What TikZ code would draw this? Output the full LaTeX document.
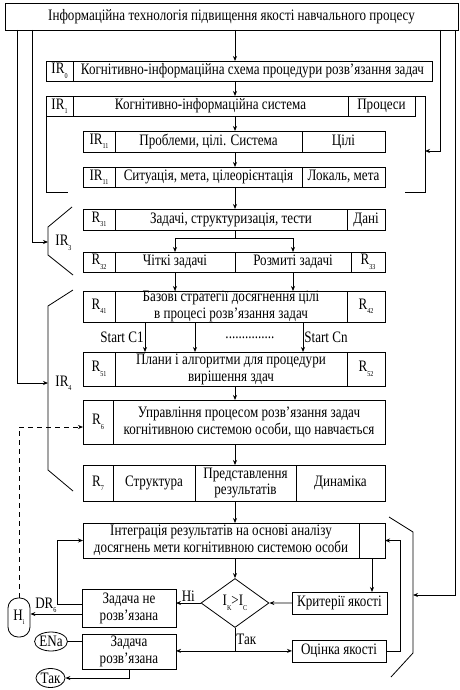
\documentclass[tikz,border=0pt]{standalone}
\usepackage{fontspec}
\setmainfont{Liberation Serif}[FakeStretch=0.82]
\usetikzlibrary{shapes.geometric,arrows.meta}
\newcommand{\rsub}[1]{\raisebox{-.6ex}{\fontsize{7.5}{7.5}\selectfont #1}}
\tikzset{cell/.style args={#1:#2}{draw, anchor=north west, minimum width=#1bp, minimum height=#2bp, inner sep=0pt, outer sep=0pt, align=center},
%round ends for the start/stop marks
capsule/.style={draw, rounded corners=10bp, minimum width=22bp, minimum height=39bp, inner sep=0pt},
oval/.style={draw, ellipse, minimum width=#1, minimum height=19bp, inner sep=0pt},
oval/.default={32bp},
diam/.style={draw, diamond, aspect=1.4, minimum width=68bp, minimum height=49bp, inner sep=0pt},
lbl/.style={inner sep=1bp},
dash5/.style={dash pattern=on 5bp off 4bp}}

\begin{document}
\begin{tikzpicture}[x=1bp,y=-1bp,line width=.8bp,font=\fontsize{16}{17}\selectfont,>={Stealth[length=5bp,width=4bp]}]
\useasboundingbox (0,0) rectangle (460,690);

\node[cell=453:27] (top) at (5,3) {Інформаційна технологія підвищення якості навчального процесу};
\coordinate (mid) at (235,0);

\node[cell=27:20] (ir0a) at (46,61) {IR\rsub{0}};
\node[cell=359:20] (ir0b) at (ir0a.north east) {Когнітивно-інформаційна схема процедури розв’язання задач};

\node[cell=27:20] (ir1a) at (46,96) {IR\rsub{1}};
\node[cell=275:20] (ir1b) at (ir1a.north east) {Когнітивно-інформаційна система};
\node[cell=67:20] (ir1c) at (ir1b.north east) {Процеси};

\node[cell=32:21] (ir11a) at (83,131) {IR\rsub{11}};
\node[cell=187:21] (ir11b) at (ir11a.north east) {Проблеми, цілі. Система};
\node[cell=83:21] (ir11c) at (ir11b.north east) {Цілі};

\node[cell=32:20] (ir12a) at (83,167) {IR\rsub{11}};
\node[cell=187:20] (ir12b) at (ir12a.north east) {Ситуація, мета, цілеорієнтація};
\node[cell=83:20] (ir12c) at (ir12b.north east) {Локаль, мета};

\node[cell=32:21] (r31a) at (83,209) {R\rsub{31}};
\node[cell=232:21] (r31b) at (r31a.north east) {Задачі, структуризація, тести};
\node[cell=38:21] (r31c) at (r31b.north east) {Дані};

\node[cell=32:20] (r32a) at (83,252) {R\rsub{32}};
\node[cell=120:20] (r32b) at (r32a.north east) {Чіткі задачі};
\node[cell=116:20] (r32c) at (r32b.north east) {Розмиті задачі};
\node[cell=34:20] (r32d) at (r32c.north east) {R\rsub{33}};

\node[cell=32:31] (r41a) at (83,291) {R\rsub{41}};
\node[cell=232:31] (r41b) at (r41a.north east) {Базові стратегії досягнення цілі\\в процесі розв’язання задач};
\node[cell=38:31] (r41c) at (r41b.north east) {R\rsub{42}};

\node[cell=32:34] (r51a) at (83,352) {R\rsub{51}};
\node[cell=232:34] (r51b) at (r51a.north east) {Плани і алгоритми для процедури\\вирішення здач};
\node[cell=38:34] (r51c) at (r51b.north east) {R\rsub{52}};

\node[cell=30:44] (r6a) at (83,400) {R\rsub{6}};
\node[cell=272:44] (r6b) at (r6a.north east) {Управління процесом розв’язання задач\\когнітивною системою особи, що навчається};

\node[cell=30:36] (r7a) at (83,465) {R\rsub{7}};
\node[cell=82:36] (r7b) at (r7a.north east) {Структура};
\node[cell=101:36] (r7c) at (r7b.north east) {Представлення\\результатів};
\node[cell=89:36] (r7d) at (r7c.north east) {Динаміка};

\node[cell=276:35] (intega) at (83,523) {Інтеграція результатів на основі аналізу\\досягнень мети когнітивною системою особи};
\node[cell=26:35] (integb) at (intega.north east) {};

\node[diam] (dia) at (235,603) {I\rsub{K}>I\rsub{C}};
\node[cell=95:22] (krit) at (292,592) {Критерії якості};
\node[cell=94:38] (notsolved) at (82,589) {Задача не\\розв’язана};
\node[cell=94:35] (solved) at (82,634) {Задача\\розв’язана};
\node[cell=94:22] (ocinka) at (292,640) {Оцінка якості};
\node[capsule] (hi) at (19,617.5) {H\rsub{i}};
\node[oval] (ena) at (51,641.5) {ENa};
\node[oval=29bp] (tak) at (50.5,678) {Так};

% frame of IR1
\draw (ir1c.north east) -- (425,96) -- (425,192) -- (405,192);
\draw (ir1a.south west) -- (46,192) -- (68,192);
% brackets IR3, IR4 and the right one
\draw (72,207) -- (48,227) -- (48,255) -- (73,275);
\draw (73,290) -- (48,306) -- (48,470) -- (73,491);
\draw (389,517) -- (413,532) -- (413,653) -- (391,677);
\coordinate (ir1f) at (425,151);
\coordinate (ir3f) at (48,242);
\coordinate (ir4f) at (48,383);
\coordinate (rbf) at (413,595);
\node[lbl, right] (ir3) at (54,243) {IR\rsub{3}};
\node[lbl, right] (ir4) at (54,383) {IR\rsub{4}};

% lines from the top box
\coordinate (lx1) at (17,0);
\coordinate (lx2) at (32,0);
\coordinate (rx1) at (440,0);
\coordinate (rx2) at (455,0);
\draw[->] (top.south -| lx1) |- (ir4f);
\draw[->] (top.south -| lx2) |- (ir3f);
\draw[->] (top.south -| rx1) |- (ir1f);
\draw[->] (top.south -| rx2) |- (rbf);

% main column
\draw[->] (top.south -| mid) -- (ir0b.north -| mid);
\draw[->] (ir0b.south -| mid) -- (ir1b.north -| mid);
\draw[->] (ir1b.south -| mid) -- (ir11b.north -| mid);
\draw[->] (ir11b.south -| mid) -- (ir12b.north -| mid);
\draw[->] (ir12b.south -| mid) -- (r31b.north -| mid);
\draw (r31b.south -| mid) -- ++(0,8) coordinate (split);
\draw[->] (split -| r32b) -| (r32b.north);
\draw[->] (split -| r32c) -| (r32c.north);
\draw (split -| r32b) -- (split -| r32c);
\draw[->] (r32b.south) -- (r32b.south |- r41b.north);
\draw[->] (r32c.south) -- (r32c.south |- r41b.north);
\draw[->] ([xshift=30bp]r41b.south west) -- node[lbl, left] {Start C1} ([xshift=30bp]r51b.north west);
\draw[->] ([xshift=80bp]r41b.south west) -- ([xshift=80bp]r51b.north west);
\draw[->] ([xshift=-44bp]r41b.south east) -- node[lbl, right] {Start Cn} ([xshift=-44bp]r51b.north east);
\node[lbl] (dots) at (250,338) {...............};
\draw[->] (r51b.south -| mid) -- (r6b.north -| mid);
\draw[->] (r6b.south -| mid) -- (r7c.north -| mid);
\draw[->] (r7c.south -| mid) -- (intega.north -| mid);
\draw[->] (intega.south -| mid) -- (dia.north);
\draw[->] (integb.south) -- (integb.south |- krit.north);
\draw[->] (krit.west) -- (dia.east);
\draw[->] (dia.west) -- node[lbl, above] {Ні} (dia.west -| notsolved.east);
\draw (dia.south) -- node[lbl, right] {Так} ++(0,23) coordinate (split2);
\draw[->] (split2) -- (split2 -| solved.east);
\draw[->] (split2) -- (split2 -| ocinka.west);
\draw[->] (ocinka.east) -- ++(14,0) |- (integb.east);
\draw[->] ([yshift=4bp]notsolved.west) -- ++(-25,0) |- (intega.west);
\draw[->] ([yshift=-6bp]notsolved.west) -- node[lbl, above, pos=.7] {DR\rsub{6}} ([yshift=-6bp]notsolved.west -| hi.east);
\draw[->, dash5] (hi.north) |- ([yshift=-5bp]r6a.west);
\draw (ena.east) -- (ena.east -| solved.west);
\draw[->] (solved.south) |- (tak.east);
\end{tikzpicture}
\end{document}
